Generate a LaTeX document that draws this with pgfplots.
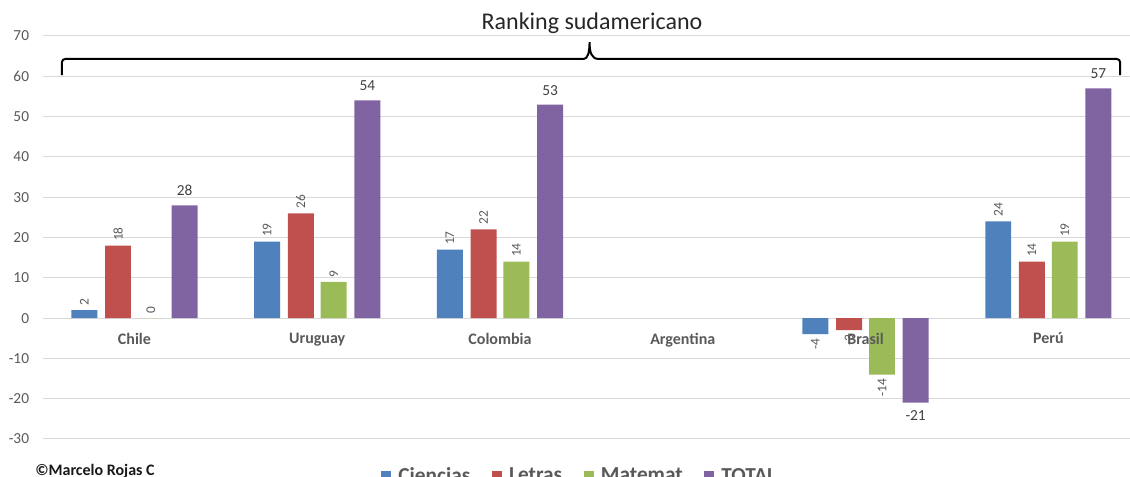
\documentclass[border=0pt]{standalone}
\usepackage{fontspec}
\setmainfont{Carlito}
\usepackage{pgfplots}
\pgfplotsset{compat=1.18}
\pgfplotsset{
  layers/labelsontop/.define layer set={
    axis background,axis grid,axis ticks,axis lines,pre main,main,axis tick labels,axis descriptions,axis foreground
  }{
    grid style={/pgfplots/on layer=axis grid},
    tick style={/pgfplots/on layer=axis ticks},
    axis line style={/pgfplots/on layer=axis lines},
    label style={/pgfplots/on layer=axis descriptions},
    legend style={/pgfplots/on layer=axis descriptions},
    title style={/pgfplots/on layer=axis descriptions},
    ticklabel style={/pgfplots/on layer=axis tick labels},
  },
}
\definecolor{cBlue}{HTML}{4F81BD}
\definecolor{cRed}{HTML}{C0504D}
\definecolor{cGreen}{HTML}{9BBB59}
\definecolor{cPurple}{HTML}{8064A2}
\definecolor{gridgray}{HTML}{D9D9D9}
\definecolor{axisgray}{HTML}{595959}
\definecolor{lblgray}{HTML}{404040}
\begin{document}
\begin{tikzpicture}
\begin{axis}[
  set layers=labelsontop,
  at={(32.3pt,28.5pt)}, anchor=south west,
  scale only axis, width=815.2pt, height=302.25pt,
  xmin=-0.5, xmax=5.447, ymin=-30, ymax=70,
  ytick={-30,-20,...,70},
  xtick={0,...,5},
  xticklabels={Chile,Uruguay,Colombia,Argentina,Brasil,Perú},
  axis x line=middle, axis y line=left,
  x axis line style={-, draw=gridgray, line width=0.75pt},
  y axis line style={draw=none},
  major tick length=0pt,
  ymajorgrids, grid style={gridgray, line width=0.75pt},
  /pgf/number format/assume math mode=true,
  yticklabel style={font=\fontsize{11.5}{11.5}\selectfont, text=axisgray, xshift=-7pt},
  xticklabel style={font=\bfseries\fontsize{12}{12}\selectfont, text=axisgray, yshift=-7.5pt},
  ybar, bar width=0.142,
  clip=false,
  title={Ranking sudamericano},
  title style={at={(0.505,1)}, anchor=center, yshift=3.75pt, font=\fontsize{18}{18}\selectfont, text=black!85},
  legend style={at={(0.494,-0.057)}, anchor=north, draw=none, fill=none, legend columns=-1,
    font=\bfseries\fontsize{16}{16}\selectfont, text=axisgray,
    /tikz/every odd column/.append style={column sep=3.5pt},
    /tikz/every even column/.append style={column sep=14pt}},
  legend image code/.code={\fill[#1] (0pt,-3.75pt) rectangle (7.5pt,3.75pt);},
  visualization depends on={y \as \rawy},
  nodes near coords,
  rotlbl/.style={every node near coord/.append style={font=\fontsize{10}{10}\selectfont, text=axisgray, rotate=90,
     /utils/exec={\ifdim\rawy pt<0pt\def\myanch{east}\else\def\myanch{west}\fi}, anchor=\myanch}},
]
\addplot[fill=cBlue, draw=none, bar shift=-0.274, rotlbl] coordinates {(0,2) (1,19) (2,17) (4,-4) (5,24)};
\addplot[fill=cRed, draw=none, bar shift=-0.09, rotlbl] coordinates {(0,18) (1,26) (2,22) (4,-3) (5,14)};
\addplot[fill=cGreen, draw=none, bar shift=0.09, rotlbl] coordinates {(0,0) (1,9) (2,14) (4,-14) (5,19)};
\addplot[fill=cPurple, draw=none, bar shift=0.274,
  every node near coord/.append style={font=\fontsize{11.5}{11.5}\selectfont, text=lblgray,
     /utils/exec={\ifdim\rawy pt<0pt\def\myanch{north}\def\myshift{-2.25pt}\else\def\myanch{south}\def\myshift{3.5pt}\fi},
     anchor=\myanch, yshift=\myshift}]
  coordinates {(0,28) (1,54) (2,53) (4,-21) (5,57)};
\legend{Ciencias,Letras,Matemat,TOTAL}
\draw[black, line width=1.5pt, rounded corners=2.5pt]
  (axis cs:-0.397,60.3) -- (axis cs:-0.397,64.3) -- (axis cs:2.44,64.3)
  [sharp corners] .. controls (axis cs:2.48,64.3) and (axis cs:2.49,66) .. (axis cs:2.49,68.5)
  .. controls (axis cs:2.49,66) and (axis cs:2.50,64.3) .. (axis cs:2.54,64.3)
  [rounded corners=2.5pt] -- (axis cs:5.393,64.3) -- (axis cs:5.393,60.3);
\end{axis}
\node[anchor=base west, font=\bfseries\fontsize{12}{12}\selectfont, text=black!90, inner sep=0pt] at (26.25pt,0.9pt) {©Marcelo Rojas C};
\pgfresetboundingbox
\path[use as bounding box] (0,0) rectangle (847.5pt,357.75pt);
\end{tikzpicture}
\end{document}
